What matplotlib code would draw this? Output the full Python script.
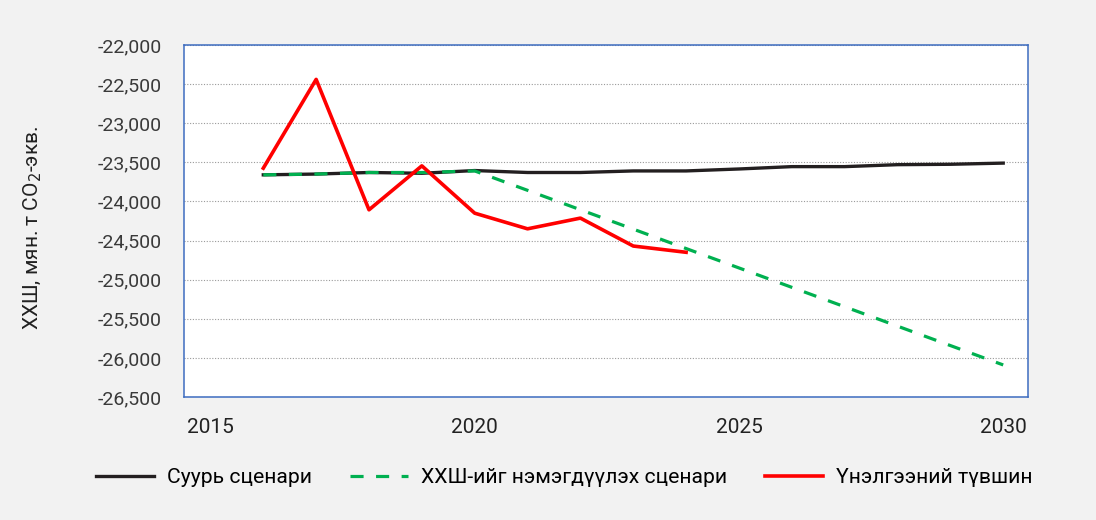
import matplotlib
matplotlib.use("Agg")
import matplotlib.pyplot as plt
from matplotlib.ticker import FuncFormatter

plt.rcParams['font.family'] = ['Roboto', 'DejaVu Sans']

years = list(range(2016, 2031))
base = [-23660, -23650, -23630, -23640, -23605, -23630, -23630, -23610,
        -23610, -23585, -23555, -23555, -23530, -23525, -23510]
ghg_up = [-23660, -23650, -23630, -23630, -23610, -23858, -24106, -24354,
          -24602, -24850, -25098, -25346, -25594, -25842, -26090]
assess_years = list(range(2016, 2025))
assess = [-23575, -22440, -24107, -23545, -24150, -24350, -24213, -24570, -24650]

labels = ['Суурь сценари', 'ХХШ-ийг нэмэгдүүлэх сценари', 'Үнэлгээний түвшин']
yticks = list(range(-26500, -21999, 500))
xticks = [2015, 2020, 2025, 2030]

fig = plt.figure(figsize=(10.96, 5.2), dpi=100)
fig.patch.set_facecolor('#f2f2f2')
ax = fig.add_axes([0.1679, 0.2365, 0.7701, 0.677])
ax.set_facecolor('white')

ax.plot(years, base, color='#231f20', lw=2.4, label=labels[0], zorder=3)
ax.plot(years, ghg_up, color='#00b050', lw=2.3, dashes=(4.1, 3.9),
        label=labels[1], zorder=4)
ax.plot(assess_years, assess, color='#ff0000', lw=2.6, label=labels[2], zorder=5)

ax.set_xlim(2014.5, 2030.47)
ax.set_ylim(-26500, -22000)
ax.set_yticks(yticks)
ax.set_xticks(xticks)
ax.yaxis.set_major_formatter(FuncFormatter(lambda v, p: f'{int(v):,}'))
ax.grid(axis='y', color='#9a9a9a', lw=0.8, linestyle=(0, (1, 1.5)))
ax.set_axisbelow(True)
ax.tick_params(axis='y', length=0, pad=16, labelsize=14, labelcolor='#3a3a3a')
ax.tick_params(axis='x', length=0, pad=15, labelsize=15, labelcolor='#222222')
for s in ax.spines.values():
    s.set_color('#3d6cc0')
    s.set_linewidth(1.1)

ax.set_ylabel('ХХШ, мян. т CO$_2$-экв.', fontsize=15, color='#222222')
ax.yaxis.set_label_coords(-0.166, 0.479)

handles, lbls = ax.get_legend_handles_labels()
fig.legend(handles, lbls, loc='center', bbox_to_anchor=(0.515, 0.081), ncol=3,
           frameon=False, fontsize=15.2, handlelength=2.75, handletextpad=0.62,
           columnspacing=1.8)

fig.savefig('out.png', dpi=100, facecolor=fig.get_facecolor())
